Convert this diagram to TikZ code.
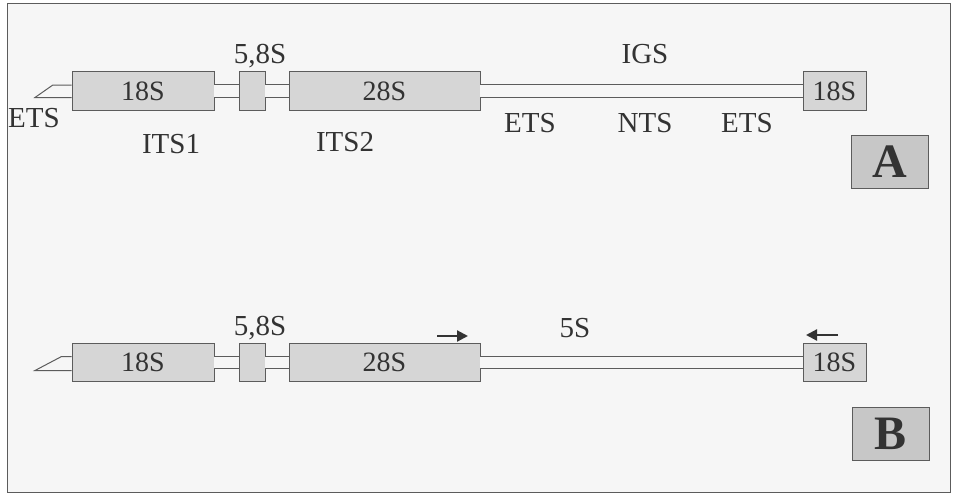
\documentclass[tikz,border=0pt]{standalone}
\usepackage{fontspec}
\setmainfont{Liberation Serif}
\usetikzlibrary{arrows.meta,calc}
\definecolor{boxfill}{gray}{0.84}
\definecolor{boxline}{gray}{0.36}
\definecolor{inkgray}{gray}{0.2}
\definecolor{pagebg}{gray}{0.965}
\definecolor{letterfill}{gray}{0.78}
\tikzset{
  gene/.style={draw=boxline, fill=boxfill, line width=0.9pt, inner sep=0pt,
    minimum height=38.5pt, font=\fontsize{28}{30}\selectfont, text=inkgray},
  rod/.style={draw=boxline, line width=1pt, double=pagebg, double distance=11.5pt},
  tail/.style={draw=boxline, line width=1pt},
  lbl/.style={font=\fontsize{29}{31}\selectfont, text=inkgray, anchor=base, inner sep=0pt},
  panel/.style={draw=boxline, fill=letterfill, line width=0.9pt, minimum width=77pt,
    minimum height=53pt, inner sep=0pt, font=\bfseries\fontsize{48}{48}\selectfont, text=inkgray},
  primer/.style={draw=inkgray, line width=2.2pt, -{Triangle[length=11pt,width=11pt]}}
}
\begin{document}
\begin{tikzpicture}[x=1pt,y=-1pt]
\useasboundingbox (0,0) rectangle (954,493);
\fill[white] (0,0) rectangle (954,493);
\draw[boxline, line width=1pt, fill=pagebg] (7,3) rectangle (950,492);

% ---------- Panel A ----------
\node[gene, minimum width=142pt] (s18a) at (143,91) {18S};
\node[gene, minimum width=26pt] (s58a) at (252,91) {};
\node[gene, minimum width=191pt] (s28a) at (384.5,91) {28S};
\node[gene, minimum width=63pt] (s18ra) at (834.5,91) {18S};
\draw[rod] (s18a.east) -- (s58a.west);
\draw[rod] (s58a.east) -- (s28a.west);
\draw[rod] (s28a.east) -- (s18ra.west);
\coordinate (tipa) at (35,97.5);
\draw[tail] ($(s18a.west)+(0,-5.8)$) -- ++(-19,0) -- (tipa) -- ($(s18a.west)+(0,6.5)$);

\node[lbl] (etsl) at (34,127) {ETS};
\node[lbl] (its1) at (171,153) {ITS1};
\node[lbl] (l58a) at (260,63) {5,8S};
\node[lbl] (its2) at (345,151) {ITS2};
\node[lbl] (igs) at (645,63) {IGS};
\node[lbl] (etsm) at (530,132) {ETS};
\node[lbl] (nts) at (645,132) {NTS};
\node[lbl] (etsr) at (747,132) {ETS};
\node[panel] (pa) at (889.5,161.5) {A};

% ---------- Panel B ----------
\node[gene, minimum width=142pt] (s18b) at (143,362.5) {18S};
\node[gene, minimum width=26pt] (s58b) at (252,362.5) {};
\node[gene, minimum width=191pt] (s28b) at (384.5,362.5) {28S};
\node[gene, minimum width=63pt] (s18rb) at (834.5,362.5) {18S};
\draw[rod] (s18b.east) -- (s58b.west);
\draw[rod] (s58b.east) -- (s28b.west);
\draw[rod] (s28b.east) -- (s18rb.west);
\coordinate (tipb) at (35,370.5);
\draw[tail] ($(s18b.west)+(0,-6)$) -- ++(-10,0) -- (tipb) -- ($(s18b.west)+(0,8)$);

\node[lbl] (l58b) at (260,335) {5,8S};
\node[lbl] (l5s) at (575,337) {5S};
\coordinate (fwa) at (437,336);
\coordinate (fwb) at (468,336);
\coordinate (rva) at (838,335);
\coordinate (rvb) at (806,335);
\draw[primer] (fwa) -- (fwb);
\draw[primer] (rva) -- (rvb);
\node[panel] (pb) at (891,433.5) {B};
\end{tikzpicture}
\end{document}
